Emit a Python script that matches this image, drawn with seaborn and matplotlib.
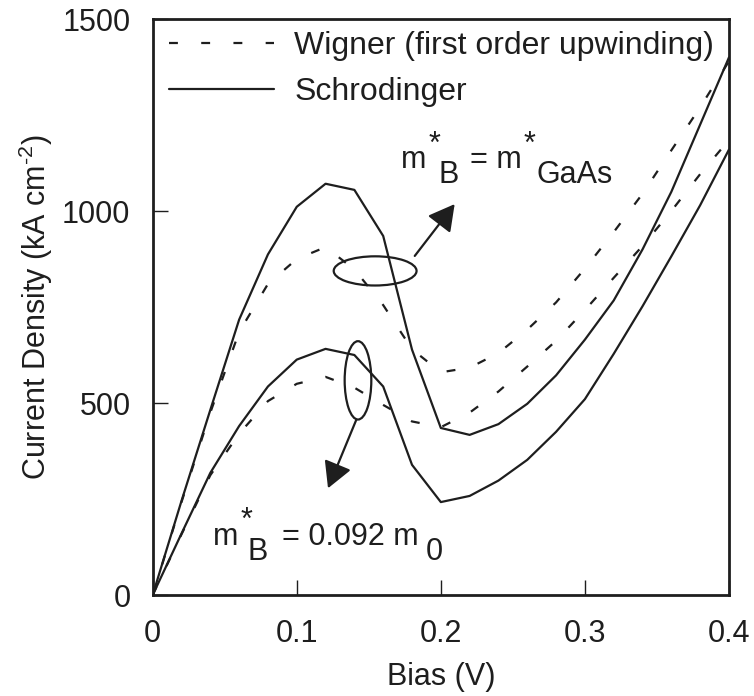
import matplotlib
matplotlib.use('Agg')
import matplotlib.pyplot as plt
import seaborn as sns
from matplotlib.patches import Ellipse
from matplotlib.lines import Line2D

# ---------------- data ----------------
bias = [0.00, 0.02, 0.04, 0.06, 0.08, 0.10, 0.12, 0.14, 0.16, 0.18, 0.20,
        0.22, 0.24, 0.26, 0.28, 0.30, 0.32, 0.34, 0.36, 0.38, 0.40]

# m*_B = m*_GaAs
schr_gaas = [0, 245, 482, 717, 887, 1011, 1071, 1055, 935, 639, 435,
             417, 445, 498, 572, 665, 767, 900, 1050, 1225, 1400]
wig_gaas = [0, 242, 475, 685, 810, 875, 906, 848, 755, 640, 580,
            592, 630, 691, 762, 850, 945, 1045, 1158, 1270, 1390]

# m*_B = 0.092 m0
schr_092 = [0, 160, 318, 440, 543, 613, 641, 625, 543, 339, 242,
            258, 298, 352, 425, 510, 628, 752, 882, 1015, 1160]
wig_092 = [0, 158, 312, 420, 505, 550, 568, 540, 495, 452, 437,
           475, 530, 595, 662, 742, 826, 909, 1000, 1096, 1185]

series_labels = ["Wigner (first order upwinding)", "Schrodinger"]
xticks = [0, 0.1, 0.2, 0.3, 0.4]
xticklabels = ["0", "0.1", "0.2", "0.3", "0.4"]
yticks = [0, 500, 1000, 1500]
yticklabels = ["0", "500", "1000", "1500"]

# ---------------- style ----------------
sns.set_theme(style="ticks")
plt.rcParams['font.family'] = ['Liberation Sans', 'DejaVu Sans']
plt.rcParams['mathtext.fontset'] = 'custom'
plt.rcParams['mathtext.rm'] = 'Liberation Sans'
plt.rcParams['mathtext.it'] = 'Liberation Sans:italic'
plt.rcParams['mathtext.default'] = 'regular'

INK = '#1e1e1e'
LW = 1.6
DASH = (0, (4, 10.5))
FS = 22

fig = plt.figure(figsize=(7.54, 6.96), dpi=100)
ax = fig.add_axes([0.2025, 0.1451, 0.7643, 0.8276])

for ys in (schr_gaas, schr_092):
    sns.lineplot(x=bias, y=ys, ax=ax, color=INK, lw=LW, sort=False, estimator=None)
for ys in (wig_gaas, wig_092):
    sns.lineplot(x=bias, y=ys, ax=ax, color=INK, lw=LW, linestyle=DASH,
                 sort=False, estimator=None)

ax.set_xlim(0, 0.4)
ax.set_ylim(0, 1500)
ax.set_xticks(xticks)
ax.set_xticklabels(xticklabels)
ax.set_yticks(yticks)
ax.set_yticklabels(yticklabels)
ax.tick_params(axis='both', direction='in', length=10.8, width=1.0, color=INK,
               labelsize=FS, labelcolor=INK, pad=16, top=False, right=False)
ax.tick_params(axis='x', pad=17.5)
for sp in ax.spines.values():
    sp.set_visible(True)
    sp.set_linewidth(2.0)
    sp.set_color(INK)

ax.set_xlabel("Bias (V)", fontsize=FS, color=INK, labelpad=9)
ax.set_ylabel("Current Density (kA cm$^{\u20102}$)", fontsize=FS, color=INK, labelpad=5)

# legend
handles = [Line2D([], [], color=INK, lw=LW, linestyle=DASH),
           Line2D([], [], color=INK, lw=LW)]
ax.legend(handles, series_labels, loc='upper left', bbox_to_anchor=(0.0283, 0.979),
          frameon=False, fontsize=23, handlelength=3.3, handletextpad=0.62,
          labelspacing=0.5, borderpad=0, borderaxespad=0, labelcolor=INK)

# ellipses
ax.add_patch(Ellipse((0.1544, 844), 0.0575, 76, fill=False, lw=LW, ec=INK))
ax.add_patch(Ellipse((0.1425, 559), 0.0185, 204, fill=False, lw=LW, ec=INK))

# arrows
arrow_kw = dict(arrowstyle='-|>,head_length=1.0,head_width=0.55', mutation_scale=16,
                lw=LW, color=INK, shrinkA=0, shrinkB=0)
ax.annotate('', xy=(0.2096, 1018), xytext=(0.1819, 883), arrowprops=arrow_kw)
ax.annotate('', xy=(0.1217, 278), xytext=(0.1414, 457), arrowprops=arrow_kw)

# annotation texts
tk = dict(fontsize=FS, color=INK, ha='left', va='baseline')
# upper: m*_B = m*_GaAs
ax.text(0.1723, 1113, "m", **tk)
ax.text(0.1915, 1152, "*", **tk)
ax.text(0.1987, 1074, "B", **tk)
ax.text(0.2200, 1113, "= m", **tk)
ax.text(0.2575, 1152, "*", **tk)
ax.text(0.2662, 1074, "GaAs", **tk)
# lower: m*_B = 0.092 m_0
ax.text(0.0418, 130, "m", **tk)
ax.text(0.0610, 171, "*", **tk)
ax.text(0.0657, 91, "B", **tk)
ax.text(0.0895, 130, "= 0.092 m", **tk)
ax.text(0.1894, 91, "0", **tk)

fig.savefig("out.png", dpi=100)
